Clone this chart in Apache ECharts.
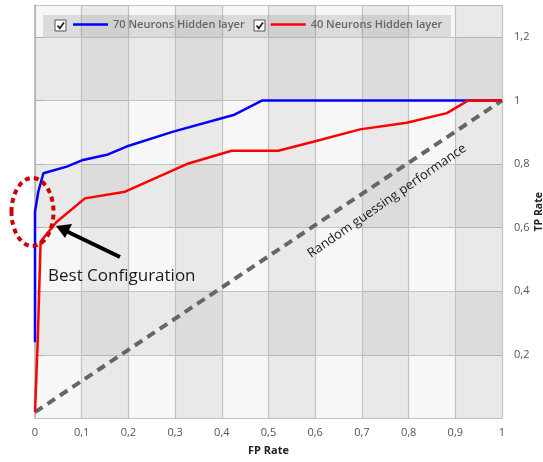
<!DOCTYPE html>
<html>
<head>
<meta charset="utf-8">
<script src="https://cdn.jsdelivr.net/npm/echarts@6/dist/echarts.min.js"></script>
<style>
html,body{margin:0;padding:0;background:#ffffff;}
#chart{width:543px;height:462px;}
</style>
</head>
<body>
<div id="chart"></div>
<script>
// ROC data: [FP rate, TP rate]
var neurons70 = [[0,0.24],[0,0.65],[0.007,0.713],[0.018,0.771],[0.068,0.792],[0.103,0.813],[0.154,0.829],[0.196,0.855],[0.296,0.902],[0.425,0.954],[0.487,1.0],[1,1.0]];
var neurons40 = [[0,0.02],[0.006,0.25],[0.012,0.556],[0.046,0.618],[0.107,0.692],[0.193,0.713],[0.325,0.80],[0.421,0.842],[0.521,0.842],[0.596,0.870],[0.696,0.909],[0.796,0.930],[0.882,0.960],[0.928,1.0],[1,1.0]];
var randomGuess = [[0,0.02],[1,1]];
var seriesNames = ['70 Neurons Hidden layer','40 Neurons Hidden layer'];
var xAxisTitle = 'FP Rate';
var yAxisTitle = 'TP Rate';
var noteBest = 'Best Configuration';
var noteRandom = 'Random guessing performance';

function commaFmt(v){ return String(Math.round(v*10)/10).replace('.', ','); }

var chart = echarts.init(document.getElementById('chart'));
var font = '"Open Sans", "Liberation Sans", sans-serif';

function checkbox(x, y){
  return [
    {type:'rect', shape:{x:x, y:y, width:11, height:11}, style:{fill:'#ffffff', stroke:'#555555', lineWidth:1}, z:10},
    {type:'polyline', shape:{points:[[x+2.5,y+5.5],[x+4.8,y+8.2],[x+9,y+2.5]]}, style:{stroke:'#222222', lineWidth:1.8, fill:null}, z:11}
  ];
}

var graphics = [
  {type:'rect', shape:{x:43, y:15, width:408, height:22}, style:{fill:'rgba(110,110,110,0.2)'}, z:5}
].concat(checkbox(55,20)).concat(checkbox(254,20)).concat([
  {type:'ellipse', shape:{cx:32.5, cy:212, rx:21, ry:34}, style:{fill:null, stroke:'#cc0000', lineWidth:4, lineDash:[5,4]}, z:20},
  {type:'line', shape:{x1:120, y1:257, x2:66, y2:231}, style:{stroke:'#000000', lineWidth:4}, z:20},
  {type:'polygon', shape:{points:[[56,226],[72,224],[65,238]]}, style:{fill:'#000000'}, z:20},
  {type:'text', x:48, y:276, style:{text:noteBest, font:'17px "Open Sans", sans-serif', fill:'#1a1a1a', verticalAlign:'middle'}, z:20},
  {type:'text', x:387, y:201, rotation:0.605, style:{text:noteRandom, font:'13px "Open Sans", sans-serif', fill:'#1a1a1a', align:'center', verticalAlign:'middle'}, z:20}
]);

var option = {
  backgroundColor:'#ffffff',
  animation:false,
  grid:{left:35, right:41, top:5, bottom:43.5, show:true, backgroundColor:'#f7f7f7', borderWidth:0, containLabel:false, outerBoundsMode:'none'},
  legend:{
    left:68, top:14, itemWidth:35, itemHeight:2.5, itemGap:26, icon:'rect',
    data:seriesNames,
    textStyle:{fontFamily:font, fontSize:11, fontWeight:600, color:'#666666'},
    z:12
  },
  xAxis:{
    type:'value', min:0, max:1, interval:0.1,
    name:xAxisTitle, nameLocation:'middle', nameGap:27, nameMoveOverlap:false,
    nameTextStyle:{fontFamily:font, fontSize:11, fontWeight:'bold', color:'#222'},
    axisLine:{show:false}, axisTick:{show:false},
    axisLabel:{formatter:commaFmt, fontFamily:font, fontSize:11, color:'#555', margin:9},
    splitLine:{show:true, lineStyle:{color:'#c2c2c2', width:1.2}},
    splitArea:{show:true, areaStyle:{color:['rgba(0,0,0,0)','rgba(0,0,0,0.055)']}}
  },
  yAxis:{
    type:'value', position:'right', min:0, max:1.3, interval:0.2,
    name:yAxisTitle, nameLocation:'middle', nameGap:37, nameRotate:90, nameMoveOverlap:false,
    nameTextStyle:{fontFamily:font, fontSize:10.5, fontWeight:'bold', color:'#222', verticalAlign:'middle'},
    axisLine:{show:true, lineStyle:{color:'#b0b0b0', width:1.5}},
    axisTick:{show:true, inside:false, length:8, lineStyle:{color:'#b0b0b0'}},
    axisLabel:{formatter:commaFmt, fontFamily:font, fontSize:11, color:'#555', margin:12, showMinLabel:false, showMaxLabel:false},
    splitLine:{show:true, lineStyle:{color:'#c2c2c2', width:1.2}},
    splitArea:{show:true, areaStyle:{color:['rgba(0,0,0,0)','rgba(0,0,0,0.055)']}}
  },
  series:[
    {name:seriesNames[0], type:'line', data:neurons70, showSymbol:false, symbol:'none', lineStyle:{color:'#0000ff', width:2.5}, itemStyle:{color:'#0000ff'}, z:4},
    {name:seriesNames[1], type:'line', data:neurons40, showSymbol:false, symbol:'none', lineStyle:{color:'#ff0000', width:2.5}, itemStyle:{color:'#ff0000'}, z:5},
    {name:'random', type:'line', data:randomGuess, showSymbol:false, symbol:'none', lineStyle:{color:'#666666', width:4, type:[9,6]}, z:3}
  ],
  graphic:graphics
};
chart.setOption(option);
</script>
</body>
</html>
